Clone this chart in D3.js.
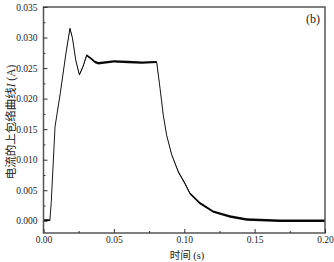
<!DOCTYPE html>
<html>
<head>
<meta charset="utf-8">
<script src="https://cdn.jsdelivr.net/npm/d3@7"></script>
<style>
  body { margin: 0; background: #fff; }
  text { font-family: "Liberation Serif", "Times New Roman", serif; fill: #222; }
  .cjk { font-family: "Noto Sans CJK SC", sans-serif; }
</style>
</head>
<body>
<div id="chart"></div>
<script>
// valores (tiempo en s, corriente en A)
const tiempo = [0, 0.002, 0.004, 0.0045, 0.0055, 0.0082, 0.0120, 0.0160, 0.0188, 0.0205,
  0.0230, 0.0255, 0.0280, 0.0307, 0.0340, 0.0366, 0.0390, 0.050, 0.060, 0.070, 0.0804,
  0.0828, 0.0851, 0.0875, 0.0911, 0.0958, 0.1005, 0.1040, 0.1110, 0.1206, 0.1325,
  0.1444, 0.1680, 0.2000];
const corriente = [0.0001, 0.0001, 0.0001, 0.0000, 0.0030, 0.0154, 0.0210, 0.0275, 0.0315, 0.0300,
  0.0262, 0.0239, 0.0252, 0.0271, 0.0265, 0.0260, 0.0258, 0.0261, 0.0260, 0.0259, 0.0260,
  0.0217, 0.0173, 0.0140, 0.0108, 0.0080, 0.0061, 0.0045, 0.0029, 0.0015, 0.0007,
  0.0002, 0.0000, 0.0000];
// semi-ancho de la banda de ruido (px) en cada punto
const ruido = [0.8, 0.8, 0.8, 0.5, 0.3, 0.3, 0.3, 0.4, 0.8, 0.6,
  0.5, 0.8, 0.9, 1.1, 1.2, 1.2, 1.2, 1.2, 1.2, 1.2, 1.0,
  0.3, 0.3, 0.3, 0.5, 0.8, 1.0, 1.1, 1.2, 1.2, 1.2,
  1.2, 1.2, 1.2];

const xTicks = [0, 0.05, 0.10, 0.15, 0.20];
const yTicks = [0, 0.005, 0.010, 0.015, 0.020, 0.025, 0.030, 0.035];
const xMinor = [0.025, 0.075, 0.125, 0.175];
const yMinor = [0.0025, 0.0075, 0.0125, 0.0175, 0.0225, 0.0275, 0.0325];

const width = 334, height = 262;
const svg = d3.select("#chart").append("svg")
  .attr("width", width).attr("height", height);

const x = d3.scaleLinear().domain([0, 0.2]).range([43.5, 325]);
const y = d3.scaleLinear().domain([-0.002, 0.035]).range([233, 7]);

const datos = tiempo.map((t, i) => ({ t: t, v: corriente[i], r: ruido[i] }));

// banda de ruido
svg.append("path")
  .datum(datos)
  .attr("d", d3.area()
    .x(d => x(d.t))
    .y0(d => y(d.v) + d.r)
    .y1(d => y(d.v) - d.r))
  .style("fill", "#111");

// curva
svg.append("path")
  .datum(datos)
  .attr("d", d3.line().x(d => x(d.t)).y(d => y(d.v)))
  .style("fill", "none")
  .style("stroke", "#000")
  .style("stroke-width", 0.9);

// marco
svg.append("rect")
  .attr("x", x.range()[0]).attr("y", y.range()[1])
  .attr("width", x.range()[1] - x.range()[0])
  .attr("height", y.range()[0] - y.range()[1])
  .style("fill", "none").style("stroke", "#555").style("stroke-width", 1.5);

// ejes
svg.append("g").attr("transform", `translate(0,${y.range()[0]})`)
  .call(d3.axisBottom(x).tickValues(xTicks).tickSize(-4).tickPadding(3.5)
    .tickFormat(d3.format(".2f")));
svg.append("g").attr("transform", `translate(0,${y.range()[0]})`)
  .call(d3.axisBottom(x).tickValues(xMinor).tickSize(-2).tickFormat(""));
svg.append("g").attr("transform", `translate(${x.range()[0]},0)`)
  .call(d3.axisLeft(y).tickValues(yTicks).tickSize(-4).tickPadding(6)
    .tickFormat(d3.format(".3f")));
svg.append("g").attr("transform", `translate(${x.range()[0]},0)`)
  .call(d3.axisLeft(y).tickValues(yMinor).tickSize(-2).tickFormat(""));

svg.selectAll(".domain").remove();
svg.selectAll(".tick line").style("stroke", "#333");
svg.selectAll(".tick text").style("font-family", "Liberation Serif, serif")
  .style("font-size", "9.5px").style("fill", "#222");

// titulos de ejes
svg.append("text")
  .attr("x", 187).attr("y", 259)
  .attr("text-anchor", "middle")
  .style("font-size", "10.5px")
  .html('<tspan class="cjk">时间</tspan> (s)');

const ty = svg.append("text")
  .attr("transform", "translate(15,122) rotate(-90)")
  .attr("text-anchor", "middle")
  .style("font-size", "11.5px");
ty.append("tspan").attr("class", "cjk").text("电流的上包络曲线");
ty.append("tspan").style("font-style", "italic").text("I");
ty.append("tspan").text(" (A)");

svg.append("text")
  .attr("x", 313).attr("y", 23)
  .attr("text-anchor", "middle")
  .style("font-size", "12px")
  .text("(b)");
</script>
</body>
</html>
